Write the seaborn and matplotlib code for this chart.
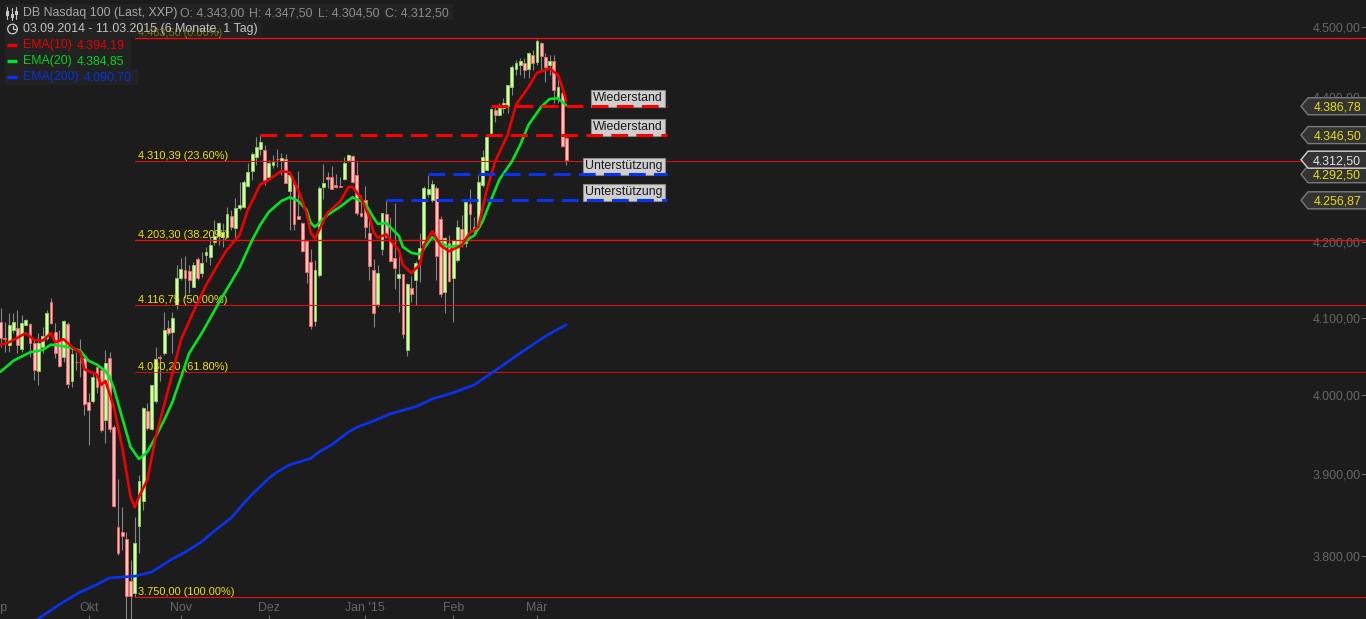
import numpy as np
import pandas as pd
import matplotlib
matplotlib.use("Agg")
import matplotlib.pyplot as plt
from matplotlib.patches import Rectangle, Polygon, Circle
from matplotlib.lines import Line2D
from matplotlib.ticker import FixedLocator, NullLocator, FuncFormatter
import seaborn as sns

# ---------- data (daily candles, 03.09.2014 - 11.03.2015) ----------
opens = [4095,4073,4065,4084,4087,4059,4091,4092,4067,4031,4062,4074,4121,4081,4071,4049,4092,4018,4043,4043,
         4048,3991,3992,4036,4032,3968,4048,3959,3835,3829,3820,3769,3755,3836,3867,3980,3957,3992,4049,4054,
         4087,4081,4117,4152,4163,4162,4141,4178,4159,4183,4180,4200,4208,4207,4207,4235,4219,4246,4248,4276,
         4297,4316,4327,4326,4289,4305,4314,4311,4314,4270,4282,4235,4226,4202,4174,4096,4157,4275,4289,4289,
         4278,4276,4286,4312,4318,4292,4240,4257,4213,4163,4118,4191,4238,4203,4179,4153,4158,4058,4139,4150,
         4178,4197,4265,4257,4274,4232,4134,4199,4153,4177,4218,4199,4252,4217,4221,4278,4298,4350,4382,4375,
         4384,4387,4414,4439,4445,4448,4439,4459,4449,4476,4456,4445,4451,4400,4405,4343]
highs = [4113,4095,4106,4106,4110,4104,4098,4093,4071,4080,4088,4110,4126,4093,4084,4097,4095,4061,4055,4072,
         4052,4003,4028,4041,4037,4058,4055,3962,3894,3859,3829,3795,3847,3899,3985,3990,4013,4062,4052,4108,
         4097,4108,4170,4179,4182,4170,4174,4181,4187,4194,4207,4230,4228,4226,4248,4244,4260,4282,4285,4308,
         4323,4344,4347,4333,4312,4319,4327,4322,4320,4296,4285,4297,4228,4203,4191,4177,4276,4307,4296,4304,
         4293,4289,4316,4320,4319,4309,4264,4276,4237,4178,4170,4240,4257,4234,4253,4190,4158,4146,4155,4175,
         4213,4276,4291,4285,4276,4236,4207,4210,4203,4230,4237,4254,4272,4234,4291,4326,4347,4384,4389,4391,
         4398,4417,4445,4452,4455,4455,4463,4466,4482,4478,4462,4459,4459,4428,4407,4347.5]
lows = [4062,4055,4055,4080,4054,4055,4090,4049,4019,4013,4054,4071,4092,4048,4036,4042,4009,4010,4032,4023,
        3974,3937,3990,4003,3953,3939,3953,3859,3801,3807,3720,3720,3750,3803,3856,3956,3956,3990,4018,4052,
        4078,4054,4112,4150,4126,4133,4140,4150,4154,4174,4170,4196,4196,4194,4206,4217,4206,4244,4246,4275,
        4285,4305,4319,4278,4287,4301,4302,4291,4280,4217,4217,4231,4187,4146,4085,4089,4154,4259,4274,4272,
        4274,4275,4285,4309,4281,4237,4234,4206,4150,4088,4114,4183,4206,4174,4138,4108,4074,4050,4121,4117,
        4147,4190,4261,4254,4150,4127,4106,4147,4095,4174,4194,4194,4214,4213,4217,4275,4298,4350,4365,4374,
        4377,4377,4403,4431,4431,4427,4427,4438,4445,4438,4421,4431,4391,4391,4330,4304.5]
closes = [4074,4072,4091,4095,4065,4093,4097,4067,4032,4067,4076,4106,4093,4054,4037,4096,4014,4053,4042,4042,
          3989,3981,4023,4010,3956,4041,3957,3861,3803,3824,3751,3751,3815,3891,3984,3958,4013,4046,4048,4084,
          4080,4100,4152,4164,4152,4150,4170,4153,4172,4187,4196,4208,4226,4214,4238,4221,4246,4250,4282,4295,
          4321,4330,4337,4285,4308,4309,4313,4315,4281,4292,4225,4232,4188,4161,4089,4163,4274,4281,4286,4272,
          4275,4275,4308,4319,4282,4240,4236,4221,4168,4106,4159,4240,4207,4175,4166,4158,4079,4145,4131,4172,
          4192,4274,4272,4279,4182,4131,4206,4149,4203,4221,4199,4254,4238,4221,4282,4316,4344,4383,4375,4384,
          4391,4417,4442,4448,4450,4438,4462,4448,4479,4458,4442,4450,4410,4414,4331,4312.5]

ema10_idx = [0,2,4,6,8,10,12,13,15,17,19,20,23,24,25,27,29,31,32,33,35,37,39,41,43,46,49,52,54,57,59,62,63,67,69,
             71,73,74,75,78,81,83,84,86,88,89,90,92,93,95,96,98,100,101,103,105,107,110,112,114,116,118,121,123,
             126,128,131,133,134,135]
ema10 = [4065,4068,4074,4080,4071,4070,4080,4068,4072,4062,4055,4033,4026,4013,4018,3985,3934,3872,3859,3872,3893,
         3947,3987,4028,4071,4108,4143,4172,4190,4210,4244,4279,4281,4297,4295,4271,4240,4213,4205,4240,4255,4275,
         4275,4260,4234,4214,4206,4211,4203,4190,4170,4159,4170,4196,4215,4196,4188,4196,4213,4221,4271,4310,4347,
         4389,4414,4434,4440,4431,4414,4394]
ema20_idx = [0,3,7,10,12,16,19,21,23,25,26,27,29,31,33,35,37,39,41,45,48,52,57,60,62,64,67,69,71,73,74,75,76,78,81,
             84,87,89,90,92,95,96,98,100,103,105,107,110,112,113,115,117,119,122,124,126,129,131,133,135]
ema20 = [4030,4044,4055,4058,4065,4062,4057,4044,4039,4031,4023,4009,3971,3934,3919,3928,3947,3968,3991,4054,4080,
         4119,4166,4203,4224,4241,4256,4261,4256,4244,4226,4221,4226,4237,4248,4261,4253,4233,4225,4226,4209,4194,
         4186,4184,4207,4199,4194,4196,4206,4209,4228,4257,4285,4310,4333,4361,4386,4397,4398,4388]
ema200_idx = [8,9,14,19,23,26,29,32,36,41,44,48,51,55,58,60,62,64,66,69,71,74,76,79,81,83,85,88,93,99,103,108,113,
              119,124,130,135]
ema200 = [3719,3724,3741,3756,3765,3773,3774,3775,3780,3796,3804,3817,3830,3846,3864,3875,3885,3895,3903,3912,3915,
          3920,3928,3937,3945,3953,3959,3965,3976,3985,3995,4003,4013,4035,4054,4076,4091]

fib_values = [4483.50, 4310.39, 4203.30, 4116.75, 4030.20, 3750.00]
fib_texts = ["4.483,50 (0.00%)", "4.310,39 (23.60%)", "4.203,30 (38.20%)",
             "4.116,75 (50.00%)", "4.030,20 (61.80%)", "3.750,00 (100.00%)"]
fib_widths = [1.0, 0.7, 1.0, 0.7, 0.6, 0.8]

level_values = [4386.78, 4346.50, 4292.50, 4256.87]
level_starts = [117, 62, 102, 92]
level_names = ["Wiederstand", "Wiederstand", "Unterstützung", "Unterstützung"]
level_colors = ["#ff0000", "#ff0000", "#0a32f0", "#0a32f0"]
level_end = 159

tag_values = [4386.78, 4346.50, 4292.50, 4256.87, 4312.50]
tag_texts = ["4.386,78", "4.346,50", "4.292,50", "4.256,87", "4.312,50"]

month_ticks = [21, 43, 64, 87, 108, 128]
month_labels = ["Okt", "Nov", "Dez", "Jan '15", "Feb", "Mär"]
price_ticks = [3800, 3900, 4000, 4100, 4200, 4300, 4400, 4500]

# ---------- style ----------
W, H = 1366, 619
BG = "#1c1c1c"
sns.set_theme(style="dark", rc={"axes.facecolor": BG, "figure.facecolor": BG})
plt.rcParams["font.family"] = ["Liberation Sans", "DejaVu Sans"]
FS = 8.9

fig = plt.figure(figsize=(W / 100, H / 100), dpi=100)
ax = fig.add_axes([0, 0, 1, 1])
ax.set_yscale("log")
ax.set_ylim(3723.7, 4538.3)
ax.set_xlim(-0.167, 325.85)
for s in ax.spines.values():
    s.set_visible(False)
ax.grid(False)


def fx(px):
    return px / W


def fy(py):
    return 1 - py / H


def label(px, py, s, color, **kw):
    ax.text(fx(px), fy(py), s, color=color, fontsize=FS, va="center", ha="left",
            transform=ax.transAxes, zorder=21, **kw)


# ---------- candles ----------
idx = np.arange(len(opens))
o, h, l, c = map(np.array, (opens, highs, lows, closes))
ax.vlines(idx, l, h, color="#858585", lw=0.8, zorder=2)
up = c >= o
top = np.maximum(o, c)
bot = np.minimum(o, c)
ax.bar(idx[up], (top - bot)[up], bottom=bot[up], width=0.68, color="#d9f7b4",
       edgecolor="#86cc55", lw=0.7, zorder=3)
ax.bar(idx[~up], (top - bot)[~up], bottom=bot[~up], width=0.68, color="#ffc0c0",
       edgecolor="#f26060", lw=0.7, zorder=3)

# ---------- fibonacci levels ----------
for v, t, w in zip(fib_values, fib_texts, fib_widths):
    ax.axhline(v, xmin=fx(135), xmax=1, color="#ee0c0c", lw=w, zorder=5)
    ax.annotate(t, xy=(fx(138), v), xycoords=("axes fraction", "data"), xytext=(0, 0),
                textcoords="offset pixels", color="#f2e200", fontsize=7.9, va="bottom",
                ha="left", zorder=4)

# ---------- moving averages ----------
sns.lineplot(x=ema200_idx, y=ema200, ax=ax, color="#0a32f5", lw=1.9, estimator=None, zorder=6)
sns.lineplot(x=ema20_idx, y=ema20, ax=ax, color="#00e626", lw=1.9, estimator=None, zorder=6)
sns.lineplot(x=ema10_idx, y=ema10, ax=ax, color="#f00000", lw=1.9, estimator=None, zorder=7)

# ---------- support / resistance ----------
for v, s, n, col in zip(level_values, level_starts, level_names, level_colors):
    ax.annotate(n, xy=(fx(663), v), xycoords=("axes fraction", "data"), xytext=(0, 2),
                textcoords="offset pixels", fontsize=8.9, color="#1a1a1a", ha="right", va="bottom",
                bbox=dict(boxstyle="square,pad=0.2", fc="#cfcfcf", ec="#8a8a8a", lw=0.8), zorder=8)
    ax.plot([s, level_end], [v, v], color=col, lw=2.2, dashes=(5.5, 2.7), dash_capstyle="butt", zorder=9)

# ---------- axes ----------
ax.yaxis.set_major_locator(FixedLocator(price_ticks))
ax.yaxis.set_minor_locator(NullLocator())
ax.yaxis.set_major_formatter(
    FuncFormatter(lambda v, _: f"{v:,.2f}".replace(",", "X").replace(".", ",").replace("X", ".")))
ax.yaxis.tick_right()
ax.tick_params(axis="y", which="major", direction="in", length=3.4, width=0.8, color="#666666",
               labelcolor="#666666", labelsize=FS, pad=-3.8, right=True, left=False)
for t in ax.get_yticklabels():
    t.set_ha("right")
ax.set_xticks(month_ticks)
ax.set_xticklabels(month_labels)
ax.tick_params(axis="x", which="major", direction="in", length=3, width=0.8, color="#666666",
               labelcolor="#666666", labelsize=FS, pad=-3.6, bottom=True)
for t in ax.get_xticklabels():
    t.set_va("bottom")
ax.set_xlabel("")
ax.set_ylabel("")
ax.annotate("Sep", xy=(-1, 0), xycoords=("data", "axes fraction"), xytext=(0, 5),
            textcoords="offset pixels", ha="center", va="bottom", color="#666666",
            fontsize=FS, annotation_clip=False)

# ---------- price tags ----------
fig.canvas.draw()
for v, t in zip(tag_values, tag_texts):
    last = t == "4.312,50"
    py = ax.transData.transform((0, v))[1]
    pts = np.array([[1301, py], [1308, py + 8.5], [W + 4, py + 8.5], [W + 4, py - 8.5], [1308, py - 8.5]])
    ax.add_patch(Polygon(pts, closed=True, transform=None, fc="#333333",
                         ec="#d5d5d5" if last else "#7a7a7a", lw=1.0, zorder=12))
    ax.annotate(t, xy=(fx(1361), v), xycoords=("axes fraction", "data"), ha="right", va="center_baseline",
                color="#e4e4e4" if last else "#e8dc10", fontsize=FS, zorder=13)

# ---------- header ----------
rows = [(5, 4, 448), (5, 21, 257), (5, 37, 126), (5, 53, 126), (5, 69, 133)]
for x0, y0, w in rows:
    ax.add_patch(Rectangle((fx(x0), fy(y0 + 16)), w / W, 16 / H, transform=ax.transAxes,
                           fc="#272727", alpha=0.6, ec="none", zorder=20))
label(23, 13, "DB Nasdaq 100 (Last, XXP)", "#a8a8a8")
for px, s in zip([180, 249, 318, 385], ["O: 4.343,00", "H: 4.347,50", "L: 4.304,50", "C: 4.312,50"]):
    label(px, 13, s, "#8c8c8c")
label(23, 29, "03.09.2014 - 11.03.2015 (6 Monate, 1 Tag)", "#c4c4c4")
label(23, 45, "EMA(10)", "#e80000")
label(77, 45, "4.394,19", "#e80000")
label(23, 61, "EMA(20)", "#00d422")
label(77, 61, "4.384,85", "#00d422")
label(23, 77, "EMA(200)", "#0a2fe0")
label(84, 77, "4.090,70", "#0a2fe0")
for py, col in zip([45, 61, 77], ["#f00000", "#00e626", "#0a32f5"]):
    ax.add_line(Line2D([fx(7), fx(17)], [fy(py), fy(py)], color=col, lw=2.4, solid_capstyle="butt",
                       transform=ax.transAxes, zorder=21))
# clock icon
ax.add_patch(Circle((12.5, H - 29), 4.8, transform=None, fc="none", ec="#d0d0d0", lw=0.9, zorder=21))
ax.add_line(Line2D([12.5, 12.5, 15.5], [H - 25.5, H - 29, H - 29], color="#d0d0d0", lw=0.8, transform=None, zorder=21))
# candlestick icon
for px, a, b, d, e in [(7, 7, 19, 11, 16), (12, 8, 20, 14, 18), (16, 7, 19, 11, 15)]:
    ax.add_line(Line2D([px, px], [H - a, H - b], color="#c8c8c8", lw=0.8, transform=None, zorder=21))
    ax.add_patch(Rectangle((px - 1.5, H - e), 3, e - d, transform=None, fc="#c8c8c8", ec="none", zorder=21))

fig.savefig("out.png", dpi=100, facecolor=BG)
